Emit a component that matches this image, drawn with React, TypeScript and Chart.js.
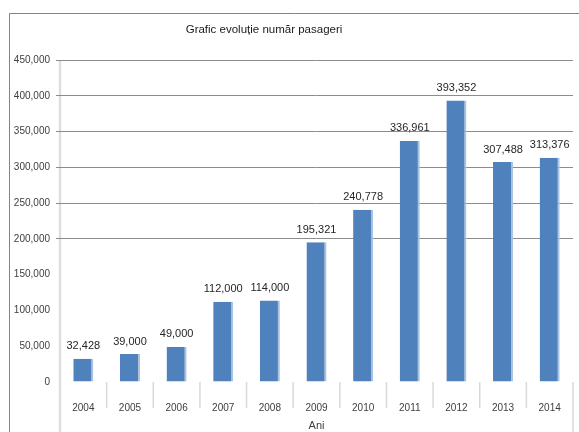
import React, { useEffect, useRef } from "react";
import { Chart, registerables } from "chart.js";

Chart.register(...registerables);

const years = ["2004", "2005", "2006", "2007", "2008", "2009", "2010", "2011", "2012", "2013", "2014"];
const passengers = [32428, 39000, 49000, 112000, 114000, 195321, 240778, 336961, 393352, 307488, 313376];
const yTicksMax = 450000;
const yTicksStep = 50000;
const chartTitle = "Grafic evoluție număr pasageri";
const xAxisTitle = "Ani";

const FONT = "'Liberation Sans', Arial, sans-serif";

const decorPlugin = {
  id: "decor",
  beforeDraw(chart: any) {
    const ctx = chart.ctx;
    const area = chart.chartArea;
    const xs = chart.scales.x;
    ctx.save();
    // frame
    ctx.strokeStyle = "#6688bb";
    ctx.lineWidth = 1;
    ctx.beginPath();
    ctx.moveTo(9.5, chart.height);
    ctx.lineTo(9.5, 13.5);
    ctx.lineTo(chart.width, 13.5);
    ctx.stroke();
    // y axis line (light)
    ctx.strokeStyle = "#dedede";
    ctx.lineWidth = 2.5;
    ctx.beginPath();
    ctx.moveTo(area.left, area.top);
    ctx.lineTo(area.left, chart.height);
    ctx.stroke();
    // category separators
    ctx.strokeStyle = "#d9d9d9";
    ctx.lineWidth = 1.5;
    const n = years.length;
    const w = (area.right - area.left) / n;
    for (let i = 1; i <= n; i++) {
      const x = xs.left + i * w;
      ctx.beginPath();
      ctx.moveTo(x, area.bottom);
      ctx.lineTo(x, i === n ? chart.height : area.bottom + 26);
      ctx.stroke();
    }
    // title
    ctx.fillStyle = "#1a1a1a";
    ctx.font = `11.5px ${FONT}`;
    ctx.textAlign = "center";
    ctx.textBaseline = "middle";
    ctx.fillText(chartTitle, 264, 30);
    // x axis title
    ctx.fillStyle = "#404040";
    ctx.font = `11px ${FONT}`;
    ctx.fillText(xAxisTitle, (area.left + area.right) / 2, 426);
    ctx.restore();
  },
  afterDatasetsDraw(chart: any) {
    const ctx = chart.ctx;
    const meta = chart.getDatasetMeta(0);
    ctx.save();
    ctx.fillStyle = "#262626";
    ctx.font = `11px ${FONT}`;
    ctx.textAlign = "center";
    ctx.textBaseline = "bottom";
    meta.data.forEach((bar: any, i: number) => {
      const v = passengers[i];
      ctx.fillText(v.toLocaleString("en-US"), bar.x, bar.y - 7);
    });
    ctx.restore();
  },
};

export default function App() {
  const ref = useRef<HTMLCanvasElement>(null);
  useEffect(() => {
    if (!ref.current) return;
    const chart = new Chart(ref.current, {
      type: "bar",
      data: {
        labels: years,
        datasets: [
          {
            data: passengers,
            backgroundColor: "#4f81bd",
            borderColor: "#a9c3e3",
            borderWidth: { top: 0, left: 0, bottom: 0, right: 2 },
            borderSkipped: false,
            categoryPercentage: 1,
            barPercentage: 0.43,
          },
        ],
      },
      options: {
        animation: false,
        responsive: false,
        maintainAspectRatio: false,
        layout: { padding: { top: 60, right: 6, left: 0, bottom: 0 } },
        plugins: {
          legend: { display: false },
          title: { display: false },
          tooltip: { enabled: false },
        },
        scales: {
          x: {
            grid: { display: false },
            border: { display: false },
            ticks: { color: "#404040", font: { family: FONT, size: 10 }, padding: 12 },
            afterFit: (s: any) => {
              s.height = 50;
            },
          },
          y: {
            min: 0,
            max: yTicksMax,
            ticks: {
              stepSize: yTicksStep,
              color: "#404040",
              font: { family: FONT, size: 10 },
              padding: 6,
              callback: (v: any) => Number(v).toLocaleString("en-US"),
            },
            grid: {
              tickLength: 4,
              lineWidth: 1,
              color: (c: any) => (c.tick && c.tick.value >= 200000 ? "#8c8c8c" : "rgba(0,0,0,0)"),
            },
            border: { display: false },
            afterFit: (s: any) => {
              s.width = 60;
            },
          },
        },
      },
      plugins: [decorPlugin],
    });
    return () => chart.destroy();
  }, []);
  return (
    <canvas
      ref={ref}
      width={579}
      height={432}
      style={{ position: "absolute", left: 0, top: 0, width: 579, height: 432 }}
    />
  );
}
